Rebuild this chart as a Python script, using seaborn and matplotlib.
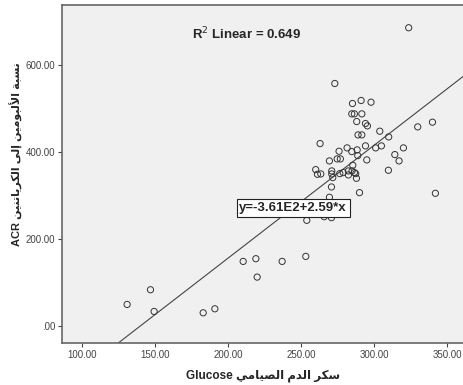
import matplotlib
matplotlib.use('Agg')
import matplotlib.pyplot as plt
import seaborn as sns
import pandas as pd
import numpy as np

# values
glucose = [130.8, 146.8, 149.3, 182.9, 190.9, 210.3, 219.0, 219.9, 237.0, 253.2,
           253.9, 265.8, 270.8, 260.0, 261.2, 263.5, 263.0, 269.4, 271.0, 271.0,
           271.7, 270.8, 269.4, 273.1, 276.0, 274.7, 276.9, 276.5, 278.8, 281.5,
           282.4, 282.4, 285.2, 284.7, 286.5, 284.7, 285.4, 284.9, 286.5, 287.4,
           287.9, 288.1, 288.4, 288.8, 289.0, 290.0, 291.1, 291.6, 291.6, 294.1,
           294.1, 295.4, 295.0, 297.9, 301.1, 303.9, 305.0, 309.8, 310.0, 314.2,
           317.1, 320.1, 323.7, 329.9, 340.0, 342.0]
acr = [50.6, 84.3, 34.5, 31.4, 40.6, 149.4, 155.6, 113.4, 149.4, 160.9,
       243.7, 252.1, 249.8, 360.1, 349.4, 350.2, 419.9, 380.1, 357.1, 350.2,
       341.8, 320.3, 296.6, 557.8, 402.3, 384.7, 384.7, 350.9, 353.3, 410.0,
       357.1, 347.9, 511.9, 488.1, 488.1, 401.5, 370.1, 357.1, 353.3, 350.9,
       340.2, 470.5, 405.4, 392.3, 439.8, 307.3, 518.8, 488.1, 439.8, 414.6,
       465.9, 460.5, 382.4, 514.9, 410.0, 448.3, 414.6, 358.6, 435.2, 394.6,
       380.1, 410.0, 685.8, 458.2, 469.0, 305.7]

intercept = -361.0
slope = 2.59
r2 = 0.649

x_ticks = [100, 150, 200, 250, 300, 350]
y_ticks = [0, 200, 400, 600]

# arabic text in presentation forms, visual order (matplotlib does no shaping)
ar_x = '\ufef2\ufee3\ufe8e\ufef4\ufebc\ufedf\ufe8d \ufee1\ufeaa\ufedf\ufe8d \ufeae\ufedc\ufeb3'
ar_y = ('\ufee6\ufef4\ufee8\ufe97\ufe8e\ufef3\ufeae\ufedc\ufedf\ufe8d '
        '\ufef0\ufedf\ufe87 '
        '\ufee6\ufef4\ufee3\ufeee\ufe92\ufedf\ufef7\ufe8d '
        '\ufe94\ufe92\ufeb4\ufee7')

df = pd.DataFrame({'glucose': glucose, 'acr': acr})

sns.set_style('white')
plt.rcParams['font.family'] = ['Liberation Sans', 'DejaVu Sans']

fig = plt.figure(figsize=(4.64, 3.85), dpi=100)
ax = fig.add_axes([0.134, 0.109, 0.866, 0.878])
ax.set_facecolor('#f0f0f0')

sns.scatterplot(data=df, x='glucose', y='acr', ax=ax, s=20,
                facecolor='none', edgecolor='#333333', linewidth=0.7,
                zorder=3)

xl = np.array([86.3, 361.6])
line = pd.DataFrame({'x': xl, 'y': intercept + slope * xl})
sns.lineplot(data=line, x='x', y='y', ax=ax, color='#444444',
             linewidth=0.8, zorder=2)

ax.set_xlim(86.3, 361.6)
ax.set_ylim(-38, 738)
ax.set_xticks(x_ticks)
ax.set_yticks(y_ticks)
ax.set_xticklabels(['%.2f' % v for v in x_ticks])
ax.set_yticklabels(['.00' if v == 0 else '%.2f' % v for v in y_ticks])
ax.tick_params(axis='both', labelsize=7, colors='#444444', length=3,
               width=0.8, direction='out', bottom=True, left=True, pad=2)

for side in ['left', 'bottom', 'top']:
    ax.spines[side].set_color('#666666')
    ax.spines[side].set_linewidth(1.2)
ax.spines['right'].set_visible(False)

ax.set_xlabel('Glucose ' + ar_x, fontsize=8.5, fontweight='bold', labelpad=7)
ax.set_ylabel('ACR ' + ar_y, fontsize=8, fontweight='bold')
ax.yaxis.set_label_coords(-0.098, 0.56)

ax.text(0.46, 0.915, 'R$^2$ Linear = %.3f' % r2, transform=ax.transAxes,
        fontsize=9.5, fontweight='bold', ha='center', va='center')
ax.text(244.5, 272, 'y=-3.61E2+2.59*x', fontsize=9.5, ha='center', va='center',
        fontweight='bold', zorder=4,
        bbox=dict(boxstyle='square,pad=0.2', facecolor='white',
                  edgecolor='#222222', linewidth=0.8))

fig.savefig('out.png', dpi=100)
